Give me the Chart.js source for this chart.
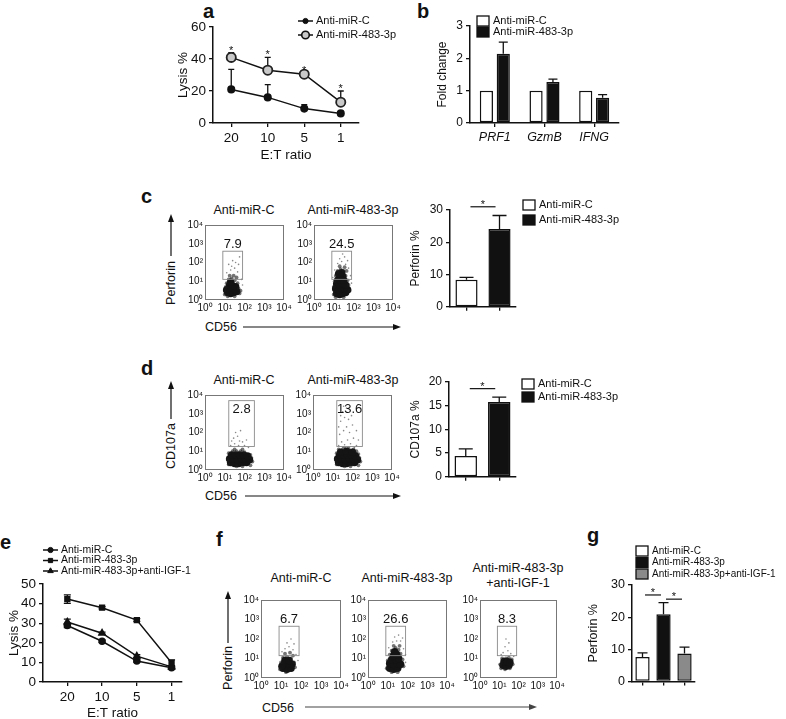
<!DOCTYPE html>
<html lang="en">
<head>
<meta charset="UTF-8">
<title>Anti-miR-483-3p and NK cell cytotoxicity</title>
<script src="https://cdn.jsdelivr.net/npm/chart.js@4"></script>
<style>
  html, body { margin: 0; padding: 0; background: #fff; overflow: hidden; }
  #fig { position: relative; width: 786px; height: 719px; }
  #fig canvas { position: absolute; }
  #notes { position: absolute; left: 0; top: 0; pointer-events: none; }
  #notes text { font-family: 'Liberation Sans', Arial, sans-serif; fill: #111; }
</style>
</head>
<body>
<div id="fig">
  <svg id="notes" width="786" height="719">
    <!-- panel letters -->
    <g font-weight="bold" font-size="20">
      <text x="203" y="18">a</text>
      <text x="417" y="18">b</text>
      <text x="141" y="203">c</text>
      <text x="141" y="375">d</text>
      <text x="0" y="549">e</text>
      <text x="216" y="546">f</text>
      <text x="587" y="542">g</text>
    </g>
    <!-- flow titles and axis names -->
    <g font-size="12.5" text-anchor="middle">
      <text x="244" y="214">Anti-miR-C</text>
      <text x="353" y="214">Anti-miR-483-3p</text>
      <text x="244" y="384">Anti-miR-C</text>
      <text x="353" y="384">Anti-miR-483-3p</text>
      <text x="301" y="582">Anti-miR-C</text>
      <text x="407" y="582">Anti-miR-483-3p</text>
      <text x="518" y="572">Anti-miR-483-3p</text>
      <text x="518" y="587">+anti-IGF-1</text>
      <text transform="translate(175,283) rotate(-90)">Perforin</text>
      <text transform="translate(175,446) rotate(-90)">CD107a</text>
      <text transform="translate(232,668) rotate(-90)">Perforin</text>
    </g>
    <g font-size="12.5">
      <text x="205" y="331">CD56</text>
      <text x="205" y="500">CD56</text>
      <text x="262" y="712">CD56</text>
    </g>
    <g stroke="#111" stroke-width="1.2" fill="none">
      <line x1="171" y1="256" x2="171" y2="219"/>
      <line x1="243" y1="327" x2="396" y2="327"/>
      <line x1="171" y1="419" x2="171" y2="386"/>
      <line x1="245" y1="496" x2="396" y2="496"/>
      <line x1="228" y1="643" x2="228" y2="596"/>
      <line x1="305" y1="707" x2="532" y2="707" stroke="#444"/>
    </g>
    <g fill="#111">
      <polygon points="171,214 168,222 174,222"/>
      <polygon points="401,327 393,324 393,330"/>
      <polygon points="171,381 168,389 174,389"/>
      <polygon points="401,496 393,493 393,499"/>
      <polygon points="228,591 225,599 231,599"/>
      <polygon points="537,707 529,704 529,710" fill="#444"/>
    </g>
  </svg>
</div>

<script>
// ---------- data ----------
// a: E:T ratio lysis
const etRatios = ['20', '10', '5', '1'];
const lysisCtrl = [21, 16, 9, 6];
const lysisCtrlErr = [12.5, 8, 2.5, 1];
const lysis483 = [41, 33, 30.5, 13];
const lysis483Err = [3, 8, 1, 7];

// b: qPCR fold change
const genes = ['PRF1', 'GzmB', 'IFNG'];
const foldCtrl = [1, 1, 1];
const fold483 = [2.14, 1.27, 0.78];
const fold483Err = [0.36, 0.09, 0.1];

// c, d: bar summaries
const groups2 = ['Anti-miR-C', 'Anti-miR-483-3p'];
const perforinC = [8.4, 24.1];
const perforinCErr = [0.7, 4.2];
const cd107aD = [4.4, 15.8];
const cd107aDErr = [1.5, 1.0];

// e: lysis with anti-IGF-1
const lysisECtrl = [28.8, 20.8, 10.7, 7.3];
const lysisECtrlErr = [1, 0.6, 0.6, 0.6];
const lysisE483 = [42.3, 37.9, 31.6, 9.8];
const lysisE483Err = [2.2, 0.6, 0.7, 1.5];
const lysisEIgf = [30.6, 24.9, 13.2, 7.7];
const lysisEIgfErr = [1.5, 0.5, 0.7, 0.5];

// g: perforin summary
const groups3 = ['Anti-miR-C', 'Anti-miR-483-3p', 'Anti-miR-483-3p+anti-IGF-1'];
const perforinG = [7.6, 20.9, 8.7];
const perforinGErr = [1.3, 3.6, 2.0];

// flow gates (CD56 range, marker range) and gate percentages
const gateCx = [8, 80], gateCy = [12.6, 400];
const gateDx = [16, 316], gateDy = [18, 5000];
const gateFx = [8, 80], gateFy = [14, 450];
const gateLabelsC = ['7.9', '24.5'];
const gateLabelsD = ['2.8', '13.6'];
const gateLabelsF = ['6.7', '26.6', '8.3'];

// flow events, written as [log10 CD56, log10 marker]
const c1Core = [[1.15,0.4],[1.3,0.35],[1.45,0.4],[1.6,0.45],[1.2,0.6],[1.35,0.55],[1.5,0.6],[1.25,0.8],[1.4,0.75],[1.55,0.7],[1.3,0.95],[1.1,0.55]];
const c1Halo = [[1.0,0.3],[1.05,0.7],[1.1,0.9],[1.2,1.1],[1.35,1.15],[1.5,1.05],[1.65,0.9],[1.7,0.6],[1.75,0.35],[1.0,0.5],[1.6,1.2],[1.45,1.3],[1.25,1.3],[1.8,0.5],[1.15,0.2],[1.5,0.2]];
const c1Sparse = [[1.3,1.6],[1.5,1.7],[1.2,1.9],[1.65,1.5],[1.4,2.1],[1.75,2.3],[1.1,1.45],[1.55,2.0],[1.85,1.1],[1.9,0.8],[1.35,1.8],[1.7,1.9]];

const c2Core = [[1.15,0.35],[1.3,0.3],[1.45,0.35],[1.6,0.4],[1.1,0.6],[1.25,0.55],[1.4,0.6],[1.55,0.6],[1.7,0.55],[1.15,0.85],[1.3,0.8],[1.45,0.85],[1.6,0.8],[1.2,1.05],[1.35,1.05],[1.5,1.05],[1.3,1.25],[1.45,1.25],[1.25,1.4],[1.4,1.45]];
const c2Halo = [[1.0,0.3],[1.0,0.7],[1.05,1.0],[1.1,1.3],[1.2,1.55],[1.35,1.65],[1.5,1.55],[1.6,1.3],[1.7,1.05],[1.75,0.8],[1.8,0.5],[1.55,1.75],[1.3,1.8],[1.65,1.55],[1.1,0.15],[1.5,0.15]];
const c2Sparse = [[1.2,1.95],[1.4,2.05],[1.6,1.9],[1.75,1.7],[1.3,2.2],[1.55,2.3],[1.85,1.3],[1.9,0.9],[1.05,1.6],[1.7,2.1],[1.45,2.45],[0.95,1.2]];

const d1Core = [[1.3,0.4],[1.5,0.35],[1.7,0.35],[1.9,0.4],[2.1,0.4],[1.25,0.6],[1.45,0.6],[1.65,0.55],[1.85,0.6],[2.05,0.6],[2.25,0.55],[1.35,0.8],[1.55,0.8],[1.75,0.8],[1.95,0.8],[2.15,0.75]];
const d1Halo = [[1.2,0.3],[1.2,0.9],[1.4,1.0],[1.6,1.0],[1.8,1.0],[2.0,0.95],[2.3,0.8],[2.4,0.45],[2.3,0.25],[1.6,0.2],[1.9,0.2],[1.15,0.55],[1.5,1.1],[1.9,1.1],[2.35,0.65]];
const d1Sparse = [[1.3,1.3],[1.5,1.4],[1.7,1.3],[1.9,1.5],[1.45,1.7],[1.65,1.8],[1.8,2.1],[2.0,1.3],[2.1,1.6],[1.35,1.55],[1.55,2.0],[2.2,1.2],[1.75,1.55]];

const d2Core = [[1.3,0.4],[1.5,0.35],[1.7,0.35],[1.9,0.4],[2.1,0.4],[1.25,0.6],[1.45,0.6],[1.65,0.55],[1.85,0.6],[2.05,0.6],[2.25,0.55],[1.35,0.8],[1.55,0.8],[1.75,0.8],[1.95,0.8],[2.15,0.75],[1.4,0.95],[1.7,1.0],[2.0,0.95]];
const d2Halo = [[1.2,0.3],[1.2,0.9],[1.3,1.1],[1.55,1.15],[1.8,1.15],[2.05,1.1],[2.3,0.85],[2.4,0.45],[2.3,0.25],[1.6,0.2],[1.9,0.2],[1.15,0.55],[2.35,0.65],[2.2,1.0]];
const d2Sparse = [[1.3,1.3],[1.45,1.5],[1.6,1.35],[1.75,1.6],[1.9,1.4],[2.05,1.7],[2.2,1.3],[1.35,1.9],[1.55,2.1],[1.7,2.3],[1.85,2.0],[2.0,2.4],[1.4,2.6],[1.6,2.8],[1.8,2.7],[1.5,3.1],[1.7,3.3],[1.95,2.9],[2.2,2.1],[1.3,2.3],[2.3,1.6],[1.65,1.2],[1.45,1.15],[2.1,1.2],[1.55,3.4],[1.4,2.9]];

const f1Core = [[1.1,0.5],[1.3,0.45],[1.5,0.5],[1.15,0.7],[1.35,0.7],[1.55,0.7],[1.2,0.9],[1.4,0.9],[1.05,0.6]];
const f1Halo = [[0.95,0.45],[1.0,0.8],[1.1,1.05],[1.3,1.1],[1.5,1.0],[1.65,0.8],[1.7,0.55],[1.25,0.3],[1.6,1.15],[1.2,1.25],[1.45,1.3]];
const f1Sparse = [[1.2,1.5],[1.4,1.6],[1.6,1.45],[1.3,1.8],[1.75,1.2],[1.5,2.0],[1.05,1.35],[1.85,0.9],[1.65,1.75]];

const f2Core = [[1.1,0.5],[1.3,0.45],[1.5,0.5],[1.1,0.75],[1.3,0.7],[1.5,0.75],[1.65,0.7],[1.2,0.95],[1.4,0.95],[1.55,1.0],[1.3,1.15],[1.45,1.2],[1.35,1.35]];
const f2Halo = [[0.95,0.5],[1.0,0.9],[1.1,1.2],[1.2,1.4],[1.4,1.55],[1.55,1.45],[1.65,1.25],[1.75,0.95],[1.8,0.6],[1.2,0.3],[1.5,0.3],[1.3,1.65],[1.6,1.65]];
const f2Sparse = [[1.25,1.85],[1.45,1.9],[1.65,1.9],[1.8,1.5],[1.35,2.1],[1.55,2.2],[1.9,1.2],[1.05,1.55],[1.75,2.05],[1.9,0.8]];

const f3Core = [[1.2,0.65],[1.35,0.6],[1.5,0.65],[1.25,0.85],[1.4,0.85],[1.55,0.8]];
const f3Halo = [[1.05,0.7],[1.1,0.5],[1.3,0.45],[1.55,0.5],[1.7,0.7],[1.65,0.95],[1.35,1.0],[1.15,1.0],[1.5,1.05]];
const f3Sparse = [[1.2,1.3],[1.45,1.4],[1.3,1.6],[1.6,1.25],[1.1,1.2],[1.5,1.8],[1.75,1.1],[1.35,2.0]];

// significance brackets: [from category, to category, height]
const sigC = [[0, 1, 31]];
const sigD = [[0, 1, 18.6]];
const sigG = [[0, 1, 26.9], [1, 2, 25.6]];

// ---------- setup ----------
const FONT = "'Liberation Sans', Arial, sans-serif";
const INK = '#111';
Chart.defaults.font.family = FONT;
Chart.defaults.color = INK;
Chart.defaults.animation = false;
Chart.defaults.responsive = false;
Chart.defaults.maintainAspectRatio = false;
Chart.defaults.plugins.legend.display = false;
Chart.defaults.plugins.tooltip.enabled = false;

// puts a canvas so that the plot area lands on [l, t, r, b]
function place(id, area, yw, xh, mt, mr, cfg) {
  const [l, t, r, b] = area;
  const x = l - yw - 2, y = t - mt;
  const w = r + mr - x, h = b + xh + 2 - y;
  const cv = document.createElement('canvas');
  cv.id = id; cv.width = w; cv.height = h;
  cv.style.left = x + 'px'; cv.style.top = y + 'px';
  cv.style.width = w + 'px'; cv.style.height = h + 'px';
  document.getElementById('fig').appendChild(cv);
  cfg.options.layout = { padding: { left: 2, top: mt, right: mr, bottom: 2 } };
  cfg.options.scales.x.afterFit = s => { s.height = xh; };
  cfg.options.scales.y.afterFit = s => { s.width = yw; };
  return new Chart(cv.getContext('2d'), cfg);
}

function valueAxis(max, step, size, title) {
  return {
    min: 0, max: max,
    ticks: { stepSize: step, font: { size: size }, padding: 3, color: INK },
    grid: { display: true, drawOnChartArea: false, tickLength: 4, color: INK, lineWidth: 1.3 },
    border: { display: true, color: INK, width: 1.5 },
    title: title ? { display: true, text: title, font: { size: size }, padding: 0, color: INK } : { display: false }
  };
}

function catAxis(size, title, opts) {
  return Object.assign({
    type: 'category', offset: true,
    ticks: { font: { size: size }, padding: 3, color: INK, maxRotation: 0, autoSkip: false },
    grid: { display: true, drawOnChartArea: false, offset: false, tickLength: 4, color: INK, lineWidth: 1.3 },
    border: { display: true, color: INK, width: 1.5 },
    title: title ? { display: true, text: title, font: { size: size }, padding: 0, color: INK } : { display: false }
  }, opts || {});
}

// error bars read from dataset.vals / dataset.errors
const errorBars = {
  id: 'errorBars',
  beforeDatasetsDraw(chart) {
    const ctx = chart.ctx, ys = chart.scales.y;
    chart.data.datasets.forEach((ds, di) => {
      if (!ds.errors) return;
      const meta = chart.getDatasetMeta(di);
      meta.data.forEach((el, i) => {
        const e = ds.errors[i];
        if (!e) return;
        const v = ds.vals[i];
        const yTop = ys.getPixelForValue(v + e);
        const yBot = ds.errBoth ? ys.getPixelForValue(v - e) : ys.getPixelForValue(v);
        const cap = ds.errCap || 3;
        ctx.save();
        ctx.strokeStyle = INK; ctx.lineWidth = 1.3;
        ctx.beginPath();
        ctx.moveTo(el.x, yBot); ctx.lineTo(el.x, yTop);
        ctx.moveTo(el.x - cap, yTop); ctx.lineTo(el.x + cap, yTop);
        if (ds.errBoth) { ctx.moveTo(el.x - cap, yBot); ctx.lineTo(el.x + cap, yBot); }
        ctx.stroke();
        ctx.restore();
      });
    });
  }
};

function legendPlugin(items, dx, dy, gap, size) {
  return {
    id: 'ownLegend',
    afterDraw(chart) {
      const ctx = chart.ctx;
      const x = chart.chartArea.left + dx, y0 = chart.chartArea.top + dy;
      ctx.save();
      ctx.font = size + 'px ' + FONT;
      ctx.textBaseline = 'middle';
      items.forEach((it, k) => {
        const y = y0 + k * gap;
        ctx.strokeStyle = INK; ctx.lineWidth = 1.3;
        if (it.kind === 'box') {
          ctx.fillStyle = it.fill;
          ctx.fillRect(x, y - 5, 12, 10);
          ctx.strokeRect(x, y - 5, 12, 10);
          ctx.fillStyle = INK;
          ctx.fillText(it.text, x + 16, y);
        } else {
          ctx.lineWidth = 1.5;
          ctx.beginPath(); ctx.moveTo(x, y); ctx.lineTo(x + 15, y); ctx.stroke();
          ctx.fillStyle = it.fill;
          ctx.lineWidth = it.bw || 1;
          Chart.helpers.drawPoint(ctx, { pointStyle: it.style, radius: it.r, borderWidth: it.bw || 1, rotation: 0 }, x + 7.5, y);
          ctx.fillStyle = INK;
          ctx.fillText(it.text, x + 18, y);
        }
      });
      ctx.restore();
    }
  };
}

function sigPlugin(pairs) {
  return {
    id: 'sig',
    afterDraw(chart) {
      const ctx = chart.ctx, xs = chart.scales.x, ys = chart.scales.y;
      ctx.save();
      ctx.strokeStyle = INK; ctx.fillStyle = INK; ctx.lineWidth = 1.2;
      ctx.font = '11px ' + FONT; ctx.textAlign = 'center'; ctx.textBaseline = 'alphabetic';
      pairs.forEach(([i, j, h]) => {
        const a = xs.getPixelForValue(i), b = xs.getPixelForValue(j);
        const d = b - a, y = ys.getPixelForValue(h);
        ctx.beginPath(); ctx.moveTo(a + 0.12 * d, y); ctx.lineTo(b - 0.12 * d, y); ctx.stroke();
        ctx.fillText('*', (a + b) / 2, y + 1);
      });
      ctx.restore();
    }
  };
}

// asterisks above the error bars of one dataset
function starPlugin(dsIndex) {
  return {
    id: 'stars',
    afterDraw(chart) {
      const ctx = chart.ctx, ys = chart.scales.y;
      const ds = chart.data.datasets[dsIndex];
      const meta = chart.getDatasetMeta(dsIndex);
      ctx.save();
      ctx.fillStyle = INK; ctx.font = '11px ' + FONT; ctx.textAlign = 'center';
      meta.data.forEach((el, i) => {
        ctx.fillText('*', el.x, ys.getPixelForValue(ds.vals[i] + ds.errors[i]) + 1);
      });
      ctx.restore();
    }
  };
}

// ---------- a ----------
place('chartA', [213, 27, 359, 123], 38, 40, 22, 44, {
  type: 'line',
  data: {
    labels: etRatios,
    datasets: [
      { label: 'Anti-miR-C', data: lysisCtrl, vals: lysisCtrl, errors: lysisCtrlErr,
        borderColor: INK, borderWidth: 1.5, pointRadius: 3.3, pointBackgroundColor: INK, pointBorderColor: INK },
      { label: 'Anti-miR-483-3p', data: lysis483, vals: lysis483, errors: lysis483Err,
        borderColor: INK, borderWidth: 1.5, pointRadius: 4.6, pointBackgroundColor: '#c9c9c9', pointBorderColor: '#222', pointBorderWidth: 1.8 }
    ]
  },
  options: { scales: { x: catAxis(13.5, 'E:T ratio'), y: valueAxis(60, 20, 13.5, 'Lysis %') } },
  plugins: [errorBars, starPlugin(1), legendPlugin([
    { text: 'Anti-miR-C', style: 'circle', r: 2.6, fill: INK },
    { text: 'Anti-miR-483-3p', style: 'circle', r: 3.8, fill: '#c9c9c9', bw: 1.6 }
  ], 85, -6, 14, 11)]
});

// ---------- b ----------
place('chartB', [470, 26, 619, 123], 35, 22, 22, 10, {
  type: 'bar',
  data: {
    labels: genes,
    datasets: [
      { label: 'Anti-miR-C', data: foldCtrl, backgroundColor: '#fff', borderColor: INK, borderWidth: 1.5, borderSkipped: false,
        categoryPercentage: 0.68, barPercentage: 0.78 },
      { label: 'Anti-miR-483-3p', data: fold483, vals: fold483, errors: fold483Err, errCap: 4.5,
        backgroundColor: INK, borderColor: INK, borderWidth: 1.5, borderSkipped: false,
        categoryPercentage: 0.68, barPercentage: 0.78 }
    ]
  },
  options: { scales: {
    x: catAxis(12.5, null, { ticks: { font: { size: 12.5, style: 'italic' }, padding: 3, color: INK } }),
    y: valueAxis(3, 1, 12, 'Fold change')
  } },
  plugins: [errorBars, legendPlugin([
    { kind: 'box', text: 'Anti-miR-C', fill: '#fff' },
    { kind: 'box', text: 'Anti-miR-483-3p', fill: INK }
  ], 7, -5, 11, 11)]
});

// ---------- c / d summary bars ----------
function twoBars(id, area, yw, vals, errs, max, step, title, sig, lgDy, lgGap) {
  return place(id, area, yw, 8, 26, 110, {
    type: 'bar',
    data: {
      labels: groups2,
      datasets: [{ data: vals, vals: vals, errors: errs, errCap: 7,
        backgroundColor: ['#fff', INK], borderColor: INK, borderWidth: 1.5, borderSkipped: false,
        categoryPercentage: 1, barPercentage: 0.67 }]
    },
    options: { scales: {
      x: catAxis(12, null, { ticks: { display: false } }),
      y: valueAxis(max, step, 12, title)
    } },
    plugins: [errorBars, sigPlugin(sig), legendPlugin([
      { kind: 'box', text: groups2[0], fill: '#fff' },
      { kind: 'box', text: groups2[1], fill: INK }
    ], 73, lgDy, lgGap, 11)]
  });
}
twoBars('chartC2', [450, 210, 516, 307], 42, perforinC, perforinCErr, 30, 10, 'Perforin %', sigC, -5, 15);
twoBars('chartD2', [449, 382, 516, 477], 41, cd107aD, cd107aDErr, 20, 5, 'CD107a %', sigD, 2, 13);

// ---------- flow dot plots ----------
const decadeTicks = [1, 10, 100, 1000, 10000];
const sup = ['\u2070', '\u00b9', '\u00b2', '\u00b3', '\u2074'];
function logAxis() {
  return {
    type: 'logarithmic', min: 1, max: 10000,
    afterBuildTicks: s => { s.ticks = decadeTicks.map(v => ({ value: v })); },
    ticks: { font: { size: 10 }, padding: 2, color: INK, autoSkip: false, maxRotation: 0,
      callback: v => '10' + sup[Math.round(Math.log10(v))] },
    grid: { display: false, drawTicks: false, tickLength: 0 },
    border: { display: false }
  };
}
const toPts = arr => arr.map(([a, b]) => ({ x: Math.pow(10, a), y: Math.pow(10, b) }));

function flowPlugin(gx, gy, label, inside) {
  return {
    id: 'flowFrame',
    afterDraw(chart) {
      const ctx = chart.ctx, a = chart.chartArea, xs = chart.scales.x, ys = chart.scales.y;
      ctx.save();
      ctx.strokeStyle = '#777'; ctx.lineWidth = 1;
      ctx.strokeRect(a.left + 0.5, a.top + 0.5, a.right - a.left - 1, a.bottom - a.top - 1);
      const x1 = xs.getPixelForValue(gx[0]), x2 = xs.getPixelForValue(gx[1]);
      const y1 = ys.getPixelForValue(gy[1]), y2 = ys.getPixelForValue(gy[0]);
      ctx.strokeStyle = '#8a8a8a'; ctx.lineWidth = 0.9;
      ctx.strokeRect(x1, y1, x2 - x1, y2 - y1);
      ctx.fillStyle = INK; ctx.font = '13px ' + FONT; ctx.textAlign = 'center';
      ctx.fillText(label, (x1 + x2) / 2, inside ? y1 + 12 : y1 - 3);
      ctx.restore();
    }
  };
}

function flowChart(id, area, core, halo, sparse, gx, gy, label, inside) {
  return place(id, area, 22, 16, 6, 12, {
    type: 'scatter',
    data: { datasets: [
      { data: toPts(sparse), pointRadius: 0.8, pointBackgroundColor: 'rgba(40,40,40,0.55)', pointBorderWidth: 0 },
      { data: toPts(halo), pointRadius: 1.9, pointBackgroundColor: 'rgba(25,25,25,0.6)', pointBorderWidth: 0 },
      { data: toPts(core), pointRadius: 3.8, pointBackgroundColor: '#141414', pointBorderWidth: 0 }
    ] },
    options: { scales: { x: logAxis(), y: logAxis() } },
    plugins: [flowPlugin(gx, gy, label, inside)]
  });
}

flowChart('flowC1', [205, 223, 284, 300], c1Core, c1Halo, c1Sparse, gateCx, gateCy, gateLabelsC[0], false);
flowChart('flowC2', [314, 223, 393, 300], c2Core, c2Halo, c2Sparse, gateCx, gateCy, gateLabelsC[1], false);
flowChart('flowD1', [205, 393, 284, 470], d1Core, d1Halo, d1Sparse, gateDx, gateDy, gateLabelsD[0], true);
flowChart('flowD2', [313, 393, 392, 470], d2Core, d2Halo, d2Sparse, gateDx, gateDy, gateLabelsD[1], true);
flowChart('flowF1', [261, 598, 341, 678], f1Core, f1Halo, f1Sparse, gateFx, gateFy, gateLabelsF[0], false);
flowChart('flowF2', [368, 598, 447, 678], f2Core, f2Halo, f2Sparse, gateFx, gateFy, gateLabelsF[1], false);
flowChart('flowF3', [480, 598, 557, 678], f3Core, f3Halo, f3Sparse, gateFx, gateFy, gateLabelsF[2], false);

// ---------- e ----------
const eSeries = (vals, errs, style, r) => ({
  data: vals.map((v, i) => ({ x: i, y: v })), vals: vals, errors: errs, errBoth: true, errCap: 3.5,
  borderColor: INK, borderWidth: 1.5, pointStyle: style, pointRadius: r,
  pointBackgroundColor: INK, pointBorderColor: INK
});
place('chartE', [43, 584, 182, 682], 37, 39, 44, 10, {
  type: 'line',
  data: { datasets: [
    eSeries(lysisECtrl, lysisECtrlErr, 'circle', 3),
    eSeries(lysisE483, lysisE483Err, 'rect', 3.4),
    eSeries(lysisEIgf, lysisEIgfErr, 'triangle', 3.6)
  ] },
  options: { scales: {
    x: {
      type: 'linear', min: -0.7, max: 3.3,
      afterBuildTicks: s => { s.ticks = etRatios.map((_, i) => ({ value: i })); },
      ticks: { font: { size: 13.5 }, padding: 3, color: INK, callback: v => etRatios[v] },
      grid: { display: true, drawOnChartArea: false, tickLength: 4, color: INK, lineWidth: 1.3 },
      border: { display: true, color: INK, width: 1.5 },
      title: { display: true, text: 'E:T ratio', font: { size: 13.5 }, padding: 0, color: INK }
    },
    y: valueAxis(50, 10, 13.5, 'Lysis %')
  } },
  plugins: [errorBars, legendPlugin([
    { text: 'Anti-miR-C', style: 'circle', r: 2.6, fill: INK },
    { text: 'Anti-miR-483-3p', style: 'rect', r: 3, fill: INK },
    { text: 'Anti-miR-483-3p+anti-IGF-1', style: 'triangle', r: 3.2, fill: INK }
  ], 0, -34, 10.5, 10.5)]
});

// ---------- g ----------
place('chartG', [632, 585, 695, 682], 46, 8, 44, 91, {
  type: 'bar',
  data: {
    labels: groups3,
    datasets: [{ data: perforinG, vals: perforinG, errors: perforinGErr, errCap: 5,
      backgroundColor: ['#fff', INK, '#8a8a8a'], borderColor: INK, borderWidth: 1.5, borderSkipped: false,
      categoryPercentage: 1, barPercentage: 0.68 }]
  },
  options: { scales: {
    x: catAxis(12, null, { ticks: { display: false } }),
    y: valueAxis(30, 10, 12.5, 'Perforin %')
  } },
  plugins: [errorBars, sigPlugin(sigG), legendPlugin([
    { kind: 'box', text: groups3[0], fill: '#fff' },
    { kind: 'box', text: groups3[1], fill: INK },
    { kind: 'box', text: groups3[2], fill: '#8a8a8a' }
  ], 4, -34, 11.5, 10)]
});
</script>
</body>
</html>
